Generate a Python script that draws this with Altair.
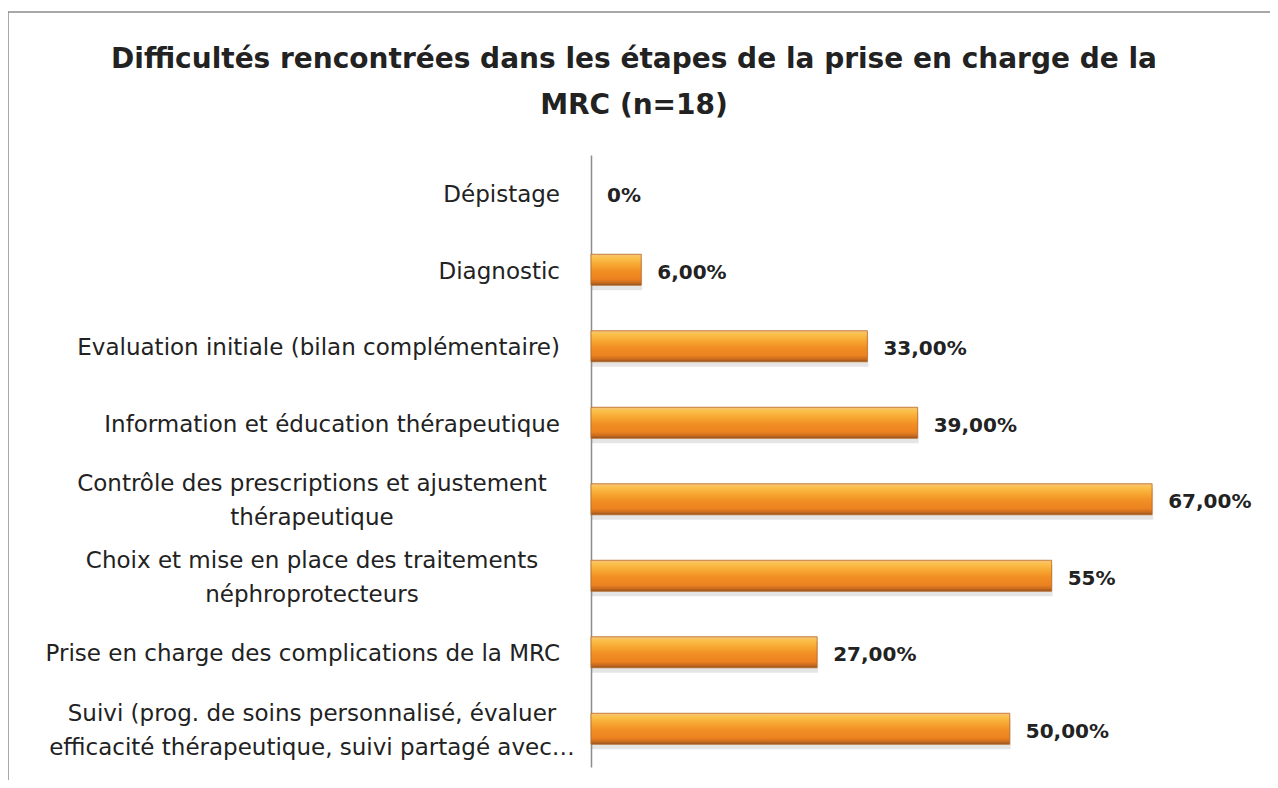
import altair as alt
import pandas as pd

categories = [
    "Dépistage",
    "Diagnostic",
    "Evaluation initiale (bilan complémentaire)",
    "Information et éducation thérapeutique",
    "Contrôle des prescriptions et ajustement thérapeutique",
    "Choix et mise en place des traitements néphroprotecteurs",
    "Prise en charge des complications de la MRC",
    "Suivi (prog. de soins personnalisé, évaluer efficacité thérapeutique, suivi partagé avec…",
]
label_line1 = [
    "Dépistage",
    "Diagnostic",
    "Evaluation initiale (bilan complémentaire)",
    "Information et éducation thérapeutique",
    "Contrôle des prescriptions et ajustement",
    "Choix et mise en place des traitements",
    "Prise en charge des complications de la MRC",
    "Suivi (prog. de soins personnalisé, évaluer",
]
label_line2 = [
    "",
    "",
    "",
    "",
    "thérapeutique",
    "néphroprotecteurs",
    "",
    "efficacité thérapeutique, suivi partagé avec…",
]
values = [0, 6, 33, 39, 67, 55, 27, 50]
value_labels = ["0%", "6,00%", "33,00%", "39,00%", "67,00%", "55%", "27,00%", "50,00%"]

title_lines = [
    "Difficultés rencontrées dans les étapes de la prise en charge de la",
    "MRC (n=18)",
]

df = pd.DataFrame({
    "cat": categories,
    "value": values,
    "vlabel": value_labels,
    "line1": label_line1,
    "line2": label_line2,
})

FONT = "DejaVu Sans"
TXT = "#222222"

y = alt.Y(
    "cat:N", sort=categories, title=None,
    scale=alt.Scale(paddingInner=0, paddingOuter=0),
    axis=alt.Axis(labels=False, ticks=False, grid=False,
                  domainColor="#8c8c8c", domainWidth=1.5),
)
x = alt.X("value:Q", scale=alt.Scale(domain=[0, 80]), axis=None)

base = alt.Chart(df)

grad = alt.LinearGradient(
    gradient="linear", x1=0, x2=0, y1=0, y2=1,
    stops=[
        alt.GradientStop(color="#f6c47e", offset=0),
        alt.GradientStop(color="#fbc04a", offset=0.12),
        alt.GradientStop(color="#f7a833", offset=0.32),
        alt.GradientStop(color="#f18e23", offset=0.55),
        alt.GradientStop(color="#ec8220", offset=0.8),
        alt.GradientStop(color="#c86a1e", offset=0.92),
        alt.GradientStop(color="#8f5023", offset=1),
    ],
)

shadow = base.transform_filter("datum.value > 0").mark_bar(
    size=31, color="#000000", opacity=0.1, yOffset=5, xOffset=1
).encode(x=x, y=y)

bars = base.transform_filter("datum.value > 0").mark_bar(
    size=31, color=grad, stroke="#b8671f", strokeWidth=0.8
).encode(x=x, y=y)

single = base.transform_filter("datum.line2 == ''").mark_text(
    align="right", baseline="middle", dy=2, font=FONT, fontSize=23, color=TXT
).encode(y=y, x=alt.value(-31), text="line1:N")

multi1 = base.transform_filter("datum.line2 != ''").mark_text(
    align="center", baseline="middle", dy=-15, font=FONT, fontSize=23, color=TXT
).encode(y=y, x=alt.value(-279), text="line1:N")

multi2 = base.transform_filter("datum.line2 != ''").mark_text(
    align="center", baseline="middle", dy=19, font=FONT, fontSize=23, color=TXT
).encode(y=y, x=alt.value(-279), text="line2:N")

vals = base.mark_text(
    align="left", baseline="middle", dx=16, dy=3, font=FONT, fontSize=20,
    fontWeight="bold", color=TXT
).encode(x=x, y=y, text="vlabel:N")

border = alt.Chart(pd.DataFrame({"b": [0]})).mark_rect(
    fillOpacity=0, stroke="#8c8c8c", strokeWidth=1.5
).encode(x=alt.value(-583), x2=alt.value(1000), y=alt.value(-143), y2=alt.value(1000))

chart = alt.layer(border, shadow, bars, single, multi1, multi2, vals).properties(
    width=670,
    height=612,
    padding={"left": 583, "top": 147, "right": 9, "bottom": 13},
    autosize=alt.AutoSizeParams(type="none"),
    background="white",
    title=alt.TitleParams(
        text=title_lines, font=FONT, fontSize=28, fontWeight="bold", color=TXT,
        anchor="middle", frame="group", dx=-292, dy=139, lineHeight=46, offset=30,
    ),
).configure_view(stroke=None)

chart.save("out.html", embed_options={"renderer": "svg", "actions": False})
